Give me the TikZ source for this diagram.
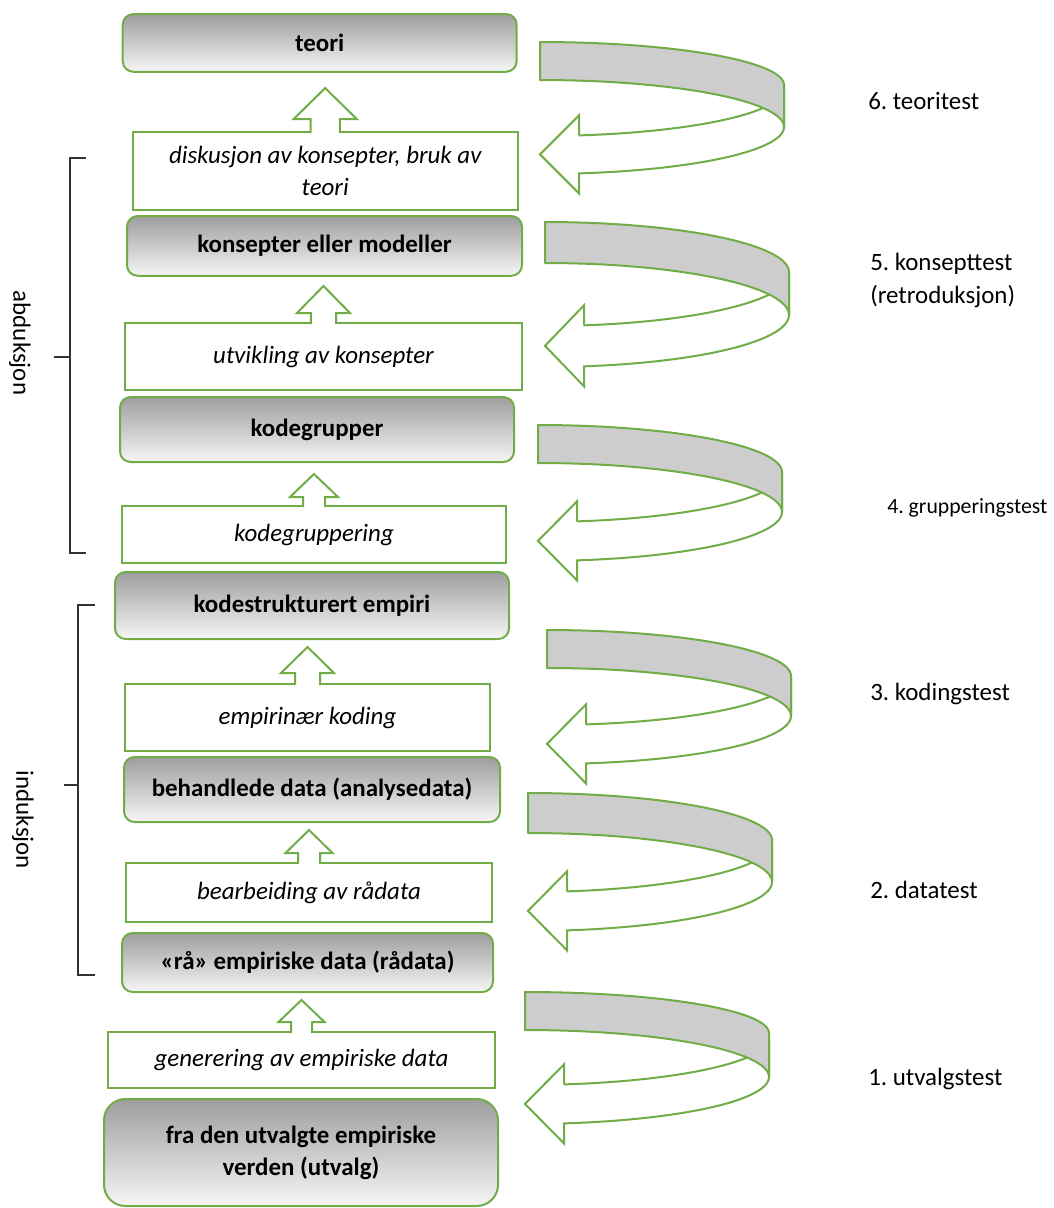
\documentclass[tikz,border=0pt]{standalone}
\usepackage{fontspec}
\setmainfont{Carlito}
\usetikzlibrary{calc}
\frenchspacing
\definecolor{grn}{RGB}{112,173,71}
\definecolor{bandgray}{RGB}{205,205,205}
\definecolor{topgray}{RGB}{158,158,158}
\definecolor{botgray}{RGB}{246,246,246}
\newcommand\pxu{0.75pt}
% up block arrow on top of a node: #1 node, #2 shaft half width, #3 shaft length, #4 head half width, #5 head length
\newcommand\blockup[5]{%
  \draw[blk] ($(#1.north)+(-#2,2)$) -- ($(#1.north)+(-#2,-#3)$) -- ($(#1.north)+(-#4,-#3)$)
    -- ($(#1.north)+(0,{-#3-#5})$) -- ($(#1.north)+(#4,-#3)$) -- ($(#1.north)+(#2,-#3)$)
    -- ($(#1.north)+(#2,2)$);}
% curved ribbon arrow: #1 cx, #2 top, #3 lower-left of band, #4 top of right edge, #5 bottom of right edge, #6 shaft width
\newcommand\myswirl[6]{%
  \pgfmathsetmacro\swRT{#4-(#2)}%
  \pgfmathsetmacro\swRB{#5-(#3)}%
  \pgfmathsetmacro\swTn{acos(39/244)}%
  \pgfmathsetmacro\swOut{#5+\swRB*sin(\swTn)}%
  \pgfmathsetmacro\swIn{#5-#6+\swRB*sin(\swTn)}%
  \pgfmathsetmacro\swMid{(\swOut+\swIn)/2}%
  \draw[swirlarrow] plot[domain=0:\swTn,samples=40,variable=\q] ({#1+244*cos(\q)},{#5+\swRB*sin(\q)})
    -- ({#1+39},{\swOut+20}) -- ({#1},{\swMid}) -- ({#1+39},{\swIn-20}) -- ({#1+39},{\swIn})
    -- plot[domain=\swTn:0,samples=40,variable=\q] ({#1+244*cos(\q)},{#5-#6+\swRB*sin(\q)}) -- cycle;
  \draw[swirlband] plot[domain=-90:0,samples=40,variable=\q] ({#1+244*cos(\q)},{#4+\swRT*sin(\q)})
    -- plot[domain=0:-90,samples=40,variable=\q] ({#1+244*cos(\q)},{#5+\swRB*sin(\q)}) -- cycle;}
\begin{document}
\begin{tikzpicture}[x=0.75pt,y=-0.75pt,
  every node/.style={font=\fontsize{18.7}{24}\selectfont, inner sep=0pt},
  stagebox/.style={draw=grn, line width=1.5pt, rounded corners=8pt, top color=topgray, bottom color=botgray,
    font=\fontsize{18.7}{24}\selectfont\bfseries, align=center},
  actbox/.style={draw=grn, line width=1.5pt, fill=white, font=\fontsize{18.7}{24}\selectfont\itshape, align=center},
  blk/.style={draw=grn, line width=1.5pt, fill=white, line join=miter},
  swirlarrow/.style={draw=grn, line width=1.5pt, fill=white, line join=miter},
  swirlband/.style={draw=grn, line width=1.5pt, fill=bandgray, line join=round},
  brk/.style={draw=black!80, line width=0.9pt},
  lbl/.style={anchor=base west}]
\useasboundingbox (0,0) rectangle (1054,1208);

% boxes
\node[stagebox, minimum width=394*\pxu, minimum height=57.7*\pxu] (teori) at (319.7,42.9) {teori};
\node[actbox, minimum width=385*\pxu, minimum height=78*\pxu] (dis) at (325.2,171) {diskusjon av konsepter, bruk av\\teori};
\node[stagebox, minimum width=395*\pxu, minimum height=59.7*\pxu] (kon) at (324.5,245.9) {konsepter eller modeller};
\node[actbox, minimum width=397*\pxu, minimum height=67*\pxu] (utv) at (323.5,356.5) {utvikling av konsepter};
\node[stagebox, minimum width=394*\pxu, minimum height=65*\pxu] (kgr) at (317,429.5) {kodegrupper};
\node[actbox, minimum width=384*\pxu, minimum height=57*\pxu] (kgp) at (314,534.5) {kodegruppering};
\node[stagebox, minimum width=394*\pxu, minimum height=67*\pxu] (kse) at (312,605.5) {kodestrukturert empiri};
\node[actbox, minimum width=365*\pxu, minimum height=67*\pxu] (emp) at (307.5,717.5) {empirinær koding};
\node[stagebox, minimum width=376*\pxu, minimum height=65*\pxu] (beh) at (312,789.5) {behandlede data (analysedata)};
\node[actbox, minimum width=366*\pxu, minimum height=59*\pxu] (bea) at (309,892.5) {bearbeiding av rådata};
\node[stagebox, minimum width=371*\pxu, minimum height=59*\pxu] (raa) at (307.5,962.5) {«rå» empiriske data (rådata)};
\node[actbox, minimum width=387*\pxu, minimum height=56*\pxu] (gen) at (301.5,1060) {generering av empiriske data};
\node[stagebox, rounded corners=16pt, minimum width=394*\pxu, minimum height=107*\pxu] (fra) at (301,1152.5) {fra den utvalgte empiriske\\verden (utvalg)};

% up arrows
\blockup{dis}{14.7}{12}{31.5}{31}
\blockup{utv}{12.7}{9}{26.5}{27}
\blockup{kgp}{11}{8}{24}{23}
\blockup{emp}{12.5}{10}{26.5}{26}
\blockup{bea}{11}{9}{23.5}{23}
\blockup{gen}{10.5}{9}{23}{22}

% curved test arrows
\myswirl{540}{42}{80}{85}{127}{38}
\myswirl{545}{222}{263}{272}{315}{41}
\myswirl{538}{425}{463}{472}{512}{39}
\myswirl{547}{630}{668}{676}{716}{39}
\myswirl{528}{793}{833}{840}{882}{39}
\myswirl{525}{992}{1030}{1033}{1077}{39}

% test labels
\node[lbl] (t6) at (868,109) {6. teoritest};
\node[lbl] (t5) at (870,270) {5. konsepttest};
\node[lbl] (t5b) at (870,303) {(retroduksjon)};
\node[lbl, font=\fontsize{16.3}{20}\selectfont] (t4) at (887,513) {4. grupperingstest};
\node[lbl] (t3) at (870,700) {3. kodingstest};
\node[lbl] (t2) at (870,898) {2. datatest};
\node[lbl] (t1) at (868,1085) {1. utvalgstest};

% brackets
\draw[brk] (86,158) -- (70,158) -- (70,553) -- (86,553);
\draw[brk] (54,357) -- (70,357);
\node[rotate=-90] (abd) at (20,343) {abduksjon};
\draw[brk] (95,605) -- (78,605) -- (78,975) -- (95,975);
\draw[brk] (64,785) -- (78,785);
\node[rotate=-90] (ind) at (23,820) {induksjon};
\end{tikzpicture}
\end{document}
